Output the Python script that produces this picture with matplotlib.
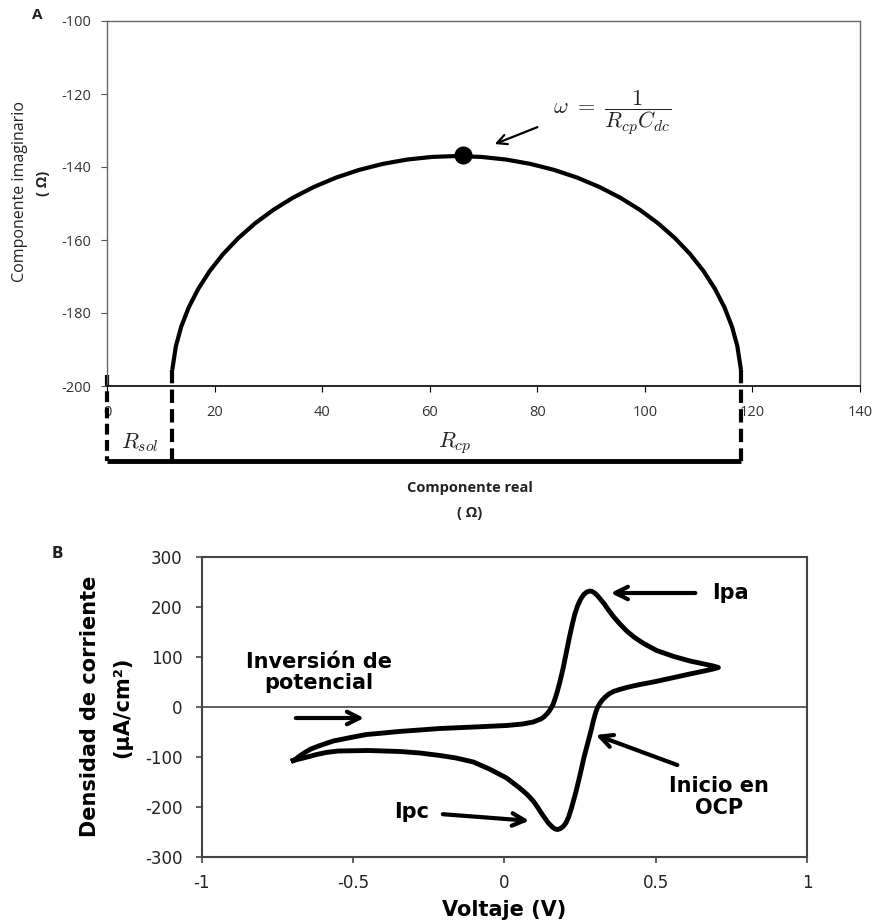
import matplotlib
matplotlib.use("Agg")
import matplotlib.pyplot as plt

plt.rcParams["mathtext.fontset"] = "cm"
plt.rcParams["axes.unicode_minus"] = False

# ---- panel A: Nyquist semicircle ----
arc_re = [117.87, 117.19, 116.19, 114.80, 113.03, 110.90, 108.42, 105.60, 102.48,
          99.07, 95.40, 91.50, 87.40, 83.13, 78.72, 74.20, 69.62, 65.00, 60.38,
          55.80, 51.28, 46.87, 42.60, 38.50, 34.60, 30.93, 27.52, 24.40, 21.58,
          19.10, 16.97, 15.20, 13.81, 12.81, 12.13]
arc_im = [-195.60, -189.06, -183.70, -178.45, -173.38, -168.50, -163.86, -159.50,
          -155.45, -151.74, -148.39, -145.44, -142.90, -140.80, -139.15, -137.96,
          -137.24, -137.00, -137.24, -137.96, -139.15, -140.80, -142.90, -145.44,
          -148.39, -151.74, -155.45, -159.50, -163.86, -168.50, -173.38, -178.45,
          -183.70, -189.06, -195.60]
r_sol = 12.1
r_end = 117.9
peak_re = 66.2
peak_im = -136.7
xticks_a = [0, 20, 40, 60, 80, 100, 120, 140]
yticks_a = [-200, -180, -160, -140, -120, -100]

# ---- panel B: cyclic voltammogram ----
cv_v = [-0.698, -0.69, -0.675, -0.66, -0.64, -0.61, -0.566, -0.5, -0.456, -0.4,
        -0.35, -0.28, -0.213, -0.1, 0.007, 0.06, 0.095, 0.12, 0.13, 0.14, 0.148,
        0.155, 0.161, 0.168, 0.175, 0.183, 0.194, 0.203, 0.213, 0.222, 0.232,
        0.242, 0.252, 0.262, 0.272, 0.282, 0.29, 0.298, 0.307, 0.318, 0.33, 0.345,
        0.36, 0.38, 0.404, 0.43, 0.46, 0.503, 0.56, 0.613, 0.66, 0.69, 0.707,
        0.69, 0.66, 0.613, 0.56, 0.5, 0.448, 0.41, 0.38, 0.36, 0.345, 0.333, 0.322,
        0.313, 0.306, 0.3, 0.294, 0.287, 0.277, 0.263, 0.25, 0.236, 0.222, 0.212,
        0.203, 0.194, 0.185, 0.176, 0.167, 0.158, 0.145, 0.125, 0.11, 0.095, 0.075,
        0.05, 0.007, -0.05, -0.103, -0.16, -0.213, -0.28, -0.345, -0.45, -0.55,
        -0.59, -0.621, -0.645, -0.665, -0.685, -0.698]
cv_j = [-107, -104, -97, -91, -84, -77, -68, -60, -55, -52,
        -49, -46, -43, -40, -37, -34, -30, -24, -20, -14, -8,
        -1, 6, 18, 32, 50, 78, 105, 135, 160, 185,
        203, 216, 225, 230, 232, 231, 228, 223, 215, 206, 193,
        181, 167, 152, 139, 127, 113, 101, 92, 86, 82, 79,
        76, 72, 66, 59, 51, 45, 40, 35, 31, 26, 20, 13,
        5, -3, -14, -27, -45, -68, -100, -135, -170, -201, -220,
        -232, -239, -243, -245, -244, -240, -232, -215, -201, -188, -175,
        -162, -142, -124, -110, -102, -97, -92, -89, -87, -88,
        -91, -95, -99, -102, -105, -107]
xticks_b = [-1, -0.5, 0, 0.5, 1]
xticklabels_b = ["-1", "-0.5", "0", "0.5", "1"]
yticks_b = [-300, -200, -100, 0, 100, 200, 300]

W, H = 878, 924
fig = plt.figure(figsize=(W / 100, H / 100), dpi=100)

# ================= A =================
axA = fig.add_axes([107 / W, 1 - 386 / H, (860 - 107) / W, (386 - 21) / H])
axA.set_xlim(0, 140)
axA.set_ylim(-200, -100)
axA.plot(arc_re, arc_im, color="k", lw=3, solid_capstyle="butt", solid_joinstyle="round")
axA.plot(peak_re, peak_im, "o", color="k", ms=12)

low = -220.5
axA.plot([0, 0], [-197, low], color="k", lw=3, ls=(0, (2.6, 1.3)), clip_on=False)
axA.plot([r_sol, r_sol], [arc_im[-1], low], color="k", lw=3, ls=(0, (3.2, 1.5)), clip_on=False)
axA.plot([r_end, r_end], [arc_im[0], low], color="k", lw=3, ls=(0, (3.2, 1.5)), clip_on=False)
axA.plot([0, r_end], [low, low], color="k", lw=3.5, solid_capstyle="butt", clip_on=False)
axA.text(6.1, -215.6, r"$R_{sol}$", fontsize=16, ha="center", va="center", color="#222")
axA.text(64.7, -215.6, r"$R_{cp}$", fontsize=16, ha="center", va="center", color="#222")

axA.annotate("", xy=(71.6, -134.0), xytext=(80.5, -128.8),
             arrowprops=dict(arrowstyle="->,head_length=0.7,head_width=0.35", lw=1.6, color="k"))
axA.text(83.0, -125.2, r"$\omega\ =\ \dfrac{\mathit{1}}{R_{cp}C_{dc}}$", fontsize=16,
         ha="left", va="center", color="#222")

axA.set_xticks(xticks_a)
axA.set_yticks(yticks_a)
for lab in axA.get_xticklabels() + axA.get_yticklabels():
    lab.set_fontfamily("Open Sans")
    lab.set_fontsize(10.5)
    lab.set_color("#333")
axA.tick_params(axis="x", direction="out", length=4, pad=10, color="k")
axA.tick_params(axis="y", direction="out", length=4, pad=7, color="#555")
for s in ["left", "top", "right"]:
    axA.spines[s].set_color("#666")
    axA.spines[s].set_linewidth(1)
axA.spines["bottom"].set_color("k")
axA.spines["bottom"].set_linewidth(1.2)

fig.text(37 / W, 1 - 15 / H, "A", fontsize=11, fontweight="bold", ha="center", va="center",
         family="Open Sans", color="#222")
fig.text(20 / W, 1 - 191 / H, "Componente imaginario", rotation=90, fontsize=11.5,
         ha="center", va="center", family="Open Sans", color="#222")
fig.text(43 / W, 1 - 183 / H, "( \u03a9)", rotation=90, fontsize=10.5, fontweight="bold",
         ha="center", va="center", family="Open Sans", color="#222")
fig.text(470 / W, 1 - 488 / H, "Componente real", fontsize=10.5, fontweight="bold",
         ha="center", va="center", family="Open Sans", color="#222")
fig.text(470 / W, 1 - 513 / H, "( \u03a9)", fontsize=10.5, fontweight="bold",
         ha="center", va="center", family="Open Sans", color="#222")

# ================= B =================
axB = fig.add_axes([202 / W, 1 - 857 / H, 605 / W, 300 / H])
axB.set_xlim(-1, 1)
axB.set_ylim(-300, 300)
axB.axhline(0, color="#555", lw=1.3, zorder=1)
axB.plot(cv_v, cv_j, color="k", lw=3.5, solid_joinstyle="round", zorder=3)

axB.set_xticks(xticks_b)
axB.set_xticklabels(xticklabels_b)
axB.set_yticks(yticks_b)
for lab in axB.get_xticklabels() + axB.get_yticklabels():
    lab.set_fontfamily("DejaVu Sans")
    lab.set_fontsize(12)
    lab.set_color("#222")
axB.tick_params(axis="both", direction="out", length=4, width=1.3, color="#555")
axB.tick_params(axis="x", pad=8)
axB.tick_params(axis="y", pad=10)
for s in axB.spines.values():
    s.set_color("#444")
    s.set_linewidth(1.5)

bold = dict(fontsize=15, fontweight="bold", family="DejaVu Sans", color="k")
arr = dict(arrowstyle="->,head_length=0.9,head_width=0.45", lw=3, color="k")

axB.text(0.686, 228, "Ipa", ha="left", va="center", **bold)
axB.annotate("", xy=(0.342, 228), xytext=(0.64, 228), arrowprops=arr)

axB.text(-0.613, 69, "Inversi\u00f3n de\npotencial", ha="center", va="center",
         linespacing=1.1, **bold)
axB.annotate("", xy=(-0.455, -22), xytext=(-0.699, -22), arrowprops=arr)

axB.text(-0.306, -210, "Ipc", ha="center", va="center", **bold)
axB.annotate("", xy=(0.091, -228), xytext=(-0.213, -214), arrowprops=arr)

axB.text(0.709, -180, "Inicio en\nOCP", ha="center", va="center", linespacing=1.1, **bold)
axB.annotate("", xy=(0.293, -54), xytext=(0.58, -118), arrowprops=arr)

fig.text(57 / W, 1 - 554 / H, "B", fontsize=11, fontweight="bold", ha="center", va="center",
         family="DejaVu Sans", color="#222")
fig.text(90 / W, 1 - 706 / H, "Densidad de corriente", rotation=90, ha="center",
         va="center", **bold)
fig.text(122 / W, 1 - 707 / H, "(\u00b5A/cm\u00b2)", rotation=90, ha="center",
         va="center", **bold)
fig.text(504 / W, 1 - 910 / H, "Voltaje (V)", ha="center", va="center", **bold)

fig.savefig("out.png", dpi=100)
